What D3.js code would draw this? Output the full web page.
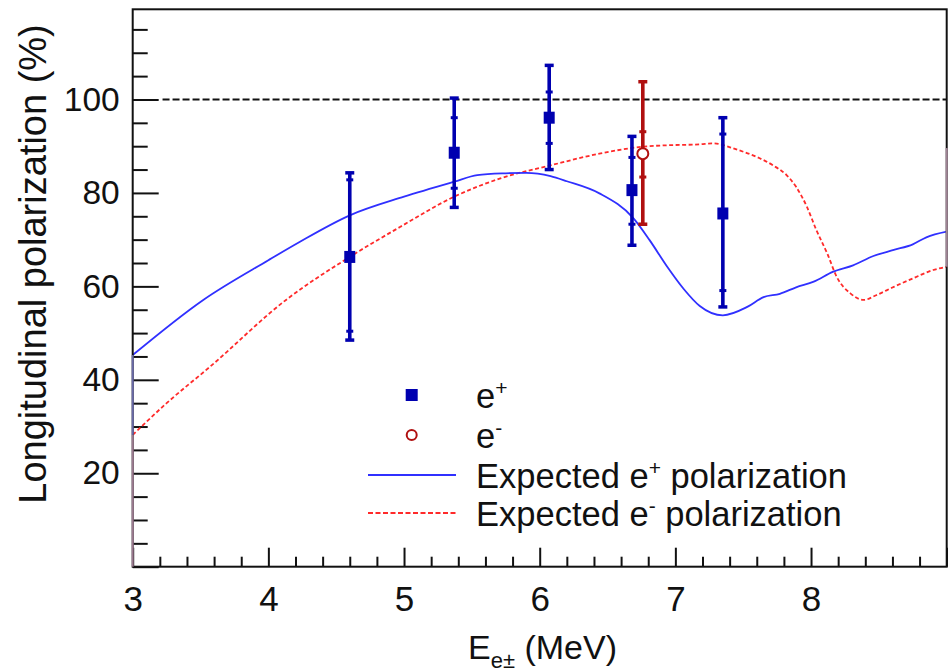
<!DOCTYPE html>
<html>
<head>
<meta charset="utf-8">
<script src="https://cdn.jsdelivr.net/npm/d3@7"></script>
<style>
  body { margin: 0; background: #fff; }
  svg { display: block; font-family: "Liberation Sans", Arial, Helvetica, sans-serif; }
</style>
</head>
<body>
<svg id="chart" width="948" height="670"></svg>
<script>
// measured e+ points (energy in MeV, polarization in %)
var posE = [4.60, 5.37, 6.07, 6.68, 7.35];
var posP = [66.3, 88.6, 96.1, 80.6, 75.6];
var posStatLo = [50.4, 81.0, 90.6, 73.3, 59.1];
var posStatHi = [82.8, 96.1, 101.6, 87.6, 92.6];
var posTotLo = [48.5, 76.9, 85.0, 68.8, 55.6];
var posTotHi = [84.3, 100.3, 107.3, 92.1, 96.1];

// measured e- point
var eleE = [6.76];
var eleP = [88.4];
var eleStatLo = [83.4];
var eleStatHi = [93.1];
var eleTotLo = [73.3];
var eleTotHi = [103.8];

// expected e+ polarization curve
var expPosE = [3.0, 3.52, 4.0, 4.23, 4.6, 5.0, 5.37, 5.54, 5.75, 5.9, 6.08, 6.2, 6.44, 6.69, 6.81, 6.94, 7.06, 7.18, 7.35, 7.53, 7.65, 7.77, 7.89, 8.02, 8.16, 8.31, 8.46, 8.61, 8.75, 8.85, 9.0];
var expPosP = [45.3, 57.1, 65.6, 69.5, 75.2, 79.2, 82.4, 83.8, 84.2, 84.3, 83.6, 82.5, 79.9, 74.6, 69.9, 64.2, 59.5, 55.8, 53.8, 55.6, 57.7, 58.4, 59.8, 61.0, 63.1, 64.5, 66.5, 67.8, 69.0, 70.5, 71.7];

// expected e- polarization curve
var expEleE = [3.0, 3.25, 3.57, 4.13, 4.6, 4.97, 5.37, 5.71, 6.08, 6.44, 6.76, 6.94, 7.18, 7.28, 7.45, 7.60, 7.72, 7.82, 7.89, 7.97, 8.04, 8.12, 8.19, 8.29, 8.39, 8.48, 8.61, 8.75, 8.90, 9.0];
var expEleP = [28.2, 35.0, 42.8, 57.1, 66.3, 72.7, 79.2, 83.1, 85.9, 88.4, 89.9, 90.2, 90.4, 90.6, 89.3, 87.7, 85.9, 83.8, 81.3, 77.0, 72.0, 67.0, 62.0, 58.5, 57.1, 58.1, 59.9, 61.7, 63.5, 64.2];

// axes
var xMajor = [3, 4, 5, 6, 7, 8, 9];
var xLabels = ["3", "4", "5", "6", "7", "8", ""];
var yMajor = [0, 20, 40, 60, 80, 100];
var yLabels = ["", "20", "40", "60", "80", "100"];
var refLine = [3.22, 9.0]; // dashed 100% line extent
var refValue = 100;

var legendLabels = ["e", "e", "Expected e", "Expected e"];
var legendSups = ["+", "-", "+", "-"];
var legendTails = ["", "", " polarization", " polarization"];

var svg = d3.select("#chart");
var padL = 132.7, padR = 946.7, padT = 9.3, padB = 566.7;

var x = d3.scaleLinear().domain([3, 9]).range([padL, padR]);
var y = d3.scaleLinear().domain([0, 119.3]).range([padB, padT]);

var blueDark = "#0000b0", redDark = "#b01010";
var blueLine = "#3030ff", redLine = "#ff2a2a";

// minor ticks
var xMinor = d3.range(3, 9.001, 0.2).filter(function (v) { return Math.abs(v - Math.round(v)) > 1e-6; });
var yMinor = d3.range(0, 119, 5).filter(function (v) { return v % 20 !== 0; });

svg.append("g")
    .attr("transform", "translate(0," + padB + ")")
    .call(d3.axisBottom(x).tickValues(xMinor).tickSize(-10).tickFormat(""))
    .call(function (g) { g.select(".domain").remove(); })
    .selectAll("line").attr("stroke", "#111").attr("stroke-width", 2);

svg.append("g")
    .attr("transform", "translate(0," + padB + ")")
    .call(d3.axisBottom(x).tickValues(xMajor).tickSize(-19).tickPadding(19)
        .tickFormat(function (d, i) { return xLabels[i]; }))
    .call(function (g) { g.select(".domain").remove(); })
    .call(function (g) { g.selectAll("line").attr("stroke", "#111").attr("stroke-width", 2); })
    .call(function (g) { g.selectAll("text").attr("fill", "#111").style("font-size", "35px").attr("font-family", null); });

svg.append("g")
    .attr("transform", "translate(" + padL + ",0)")
    .call(d3.axisLeft(y).tickValues(yMinor).tickSize(-15).tickFormat(""))
    .call(function (g) { g.select(".domain").remove(); })
    .selectAll("line").attr("stroke", "#111").attr("stroke-width", 2);

svg.append("g")
    .attr("transform", "translate(" + padL + ",0)")
    .call(d3.axisLeft(y).tickValues(yMajor).tickSize(-26).tickPadding(13)
        .tickFormat(function (d, i) { return yLabels[i]; }))
    .call(function (g) { g.select(".domain").remove(); })
    .call(function (g) { g.selectAll("line").attr("stroke", "#111").attr("stroke-width", 2); })
    .call(function (g) { g.selectAll("text").attr("fill", "#111").style("font-size", "33.5px").attr("font-family", null); });

// dashed 100% reference
svg.append("line")
    .attr("x1", x(refLine[0])).attr("x2", x(refLine[1]))
    .attr("y1", y(refValue)).attr("y2", y(refValue))
    .attr("stroke", "#111").attr("stroke-width", 2).attr("stroke-dasharray", "7,3");

// expected curves
var line = d3.line()
    .x(function (d) { return x(d[0]); })
    .y(function (d) { return y(d[1]); })
    .curve(d3.curveMonotoneX);

svg.append("path")
    .datum(d3.zip(expEleE, expEleP))
    .attr("d", line)
    .attr("fill", "none").attr("stroke", redLine).attr("stroke-width", 1.8)
    .attr("stroke-dasharray", "4,2.5");

svg.append("path")
    .datum(d3.zip(expPosE, expPosP))
    .attr("d", line)
    .attr("fill", "none").attr("stroke", blueLine).attr("stroke-width", 1.8);

// error bars with stat (inner) and total (outer) caps
function errorBars(es, sLo, sHi, tLo, tHi, color) {
    var g = svg.append("g");
    es.forEach(function (e, i) {
        var cx = x(e);
        g.append("line")
            .attr("x1", cx).attr("x2", cx).attr("y1", y(tLo[i])).attr("y2", y(tHi[i]))
            .attr("stroke", color).attr("stroke-width", 3.6);
        [tLo[i], tHi[i]].forEach(function (v) {
            g.append("line").attr("x1", cx - 4.5).attr("x2", cx + 4.5)
                .attr("y1", y(v)).attr("y2", y(v))
                .attr("stroke", color).attr("stroke-width", 3.5);
        });
        [sLo[i], sHi[i]].forEach(function (v) {
            g.append("line").attr("x1", cx - 3.5).attr("x2", cx + 3.5)
                .attr("y1", y(v)).attr("y2", y(v))
                .attr("stroke", color).attr("stroke-width", 3);
        });
    });
    return g;
}

errorBars(posE, posStatLo, posStatHi, posTotLo, posTotHi, blueDark);
errorBars(eleE, eleStatLo, eleStatHi, eleTotLo, eleTotHi, redDark);

svg.append("g").selectAll("rect")
    .data(d3.zip(posE, posP))
    .enter().append("rect")
    .attr("x", function (d) { return x(d[0]) - 5.5; })
    .attr("y", function (d) { return y(d[1]) - 6; })
    .attr("width", 11).attr("height", 12)
    .attr("fill", blueDark);

svg.append("g").selectAll("circle")
    .data(d3.zip(eleE, eleP))
    .enter().append("circle")
    .attr("cx", function (d) { return x(d[0]); })
    .attr("cy", function (d) { return y(d[1]); })
    .attr("r", 5.5)
    .attr("fill", "#fff").attr("stroke", redDark).attr("stroke-width", 2);

// frame
svg.append("rect")
    .attr("x", padL).attr("y", padT)
    .attr("width", padR - padL).attr("height", padB - padT)
    .attr("fill", "none").attr("stroke", "#111").attr("stroke-width", 2);

// curve colours bleeding onto the frame edges, as in the original
svg.append("line").attr("x1", x(3)).attr("x2", x(3))
    .attr("y1", y(expPosP[0])).attr("y2", y(expEleP[0]))
    .attr("stroke", "#6a6aa8").attr("stroke-width", 2);
svg.append("line").attr("x1", x(3)).attr("x2", x(3))
    .attr("y1", y(expEleP[0])).attr("y2", y(0))
    .attr("stroke", "#9c7a90").attr("stroke-width", 2);
svg.append("line").attr("x1", x(9)).attr("x2", x(9))
    .attr("y1", y(89.6)).attr("y2", y(expEleP[expEleP.length - 1]))
    .attr("stroke", "#a08496").attr("stroke-width", 2);

// legend
var legend = svg.append("g");
var legRows = [395, 435, 475, 513];
var symX = 411.7, textX = 476;

legend.append("rect").attr("x", symX - 6).attr("y", legRows[0] - 6)
    .attr("width", 12).attr("height", 12).attr("fill", blueDark);
legend.append("circle").attr("cx", symX).attr("cy", legRows[1]).attr("r", 5)
    .attr("fill", "#fff").attr("stroke", redDark).attr("stroke-width", 2);
legend.append("line").attr("x1", 368).attr("x2", 456)
    .attr("y1", legRows[2]).attr("y2", legRows[2])
    .attr("stroke", blueLine).attr("stroke-width", 2);
legend.append("line").attr("x1", 368).attr("x2", 456)
    .attr("y1", legRows[3]).attr("y2", legRows[3])
    .attr("stroke", redLine).attr("stroke-width", 2).attr("stroke-dasharray", "5,2.5");

legendLabels.forEach(function (lab, i) {
    var t = legend.append("text")
        .attr("x", textX).attr("y", legRows[i] + 13)
        .attr("fill", "#111").style("font-size", "34.5px");
    t.append("tspan").text(lab);
    t.append("tspan").attr("dy", -13).style("font-size", "21px").text(legendSups[i]);
    if (legendTails[i]) t.append("tspan").attr("dy", 13).text(legendTails[i]);
});

// axis titles
var xt = svg.append("text")
    .attr("x", 468).attr("y", 659)
    .attr("fill", "#111").style("font-size", "34px");
xt.append("tspan").text("E");
xt.append("tspan").attr("dy", 9).style("font-size", "22px").text("e\u00b1");
xt.append("tspan").attr("dy", -9).text(" (MeV)");

svg.append("text")
    .attr("transform", "translate(46," + 264 + ") rotate(-90)")
    .attr("text-anchor", "middle")
    .attr("fill", "#111").style("font-size", "38px")
    .text("Longitudinal polarization (%)");
</script>
</body>
</html>
